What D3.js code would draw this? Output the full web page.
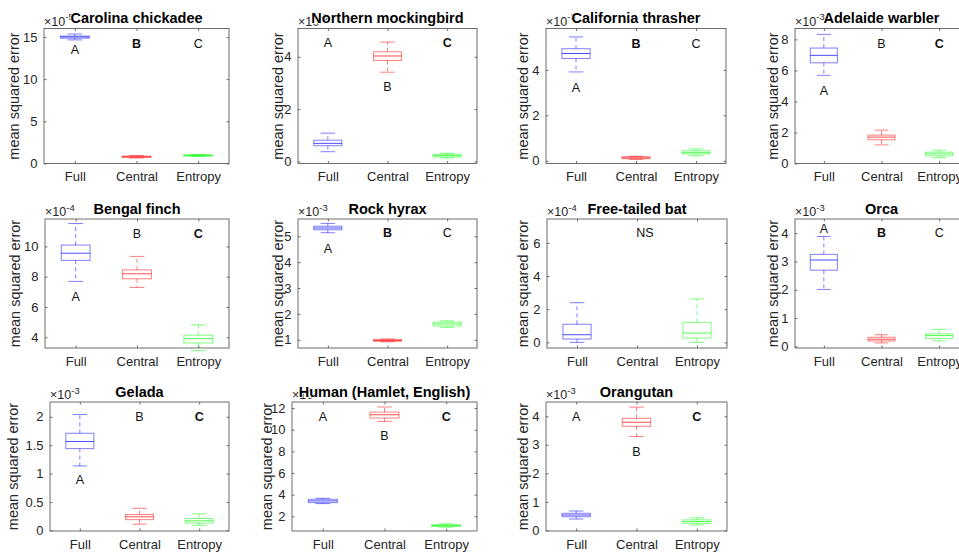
<!DOCTYPE html>
<html>
<head>
<meta charset="utf-8">
<script src="https://cdn.jsdelivr.net/npm/d3@7"></script>
<style>
  body { margin: 0; background: #fff; }
  svg { display: block; font-family: "Liberation Sans", Arial, Helvetica, sans-serif; }
</style>
</head>
<body>
<svg id="fig" width="959" height="554"></svg>
<script>
// ---- data -------------------------------------------------------------
const groups = ["Full", "Central", "Entropy"];
const groupColors = ["#0000ff", "#ff0000", "#00ff00"];

const titles = [
  "Carolina chickadee", "Northern mockingbird", "California thrasher", "Adelaide warbler",
  "Bengal finch", "Rock hyrax", "Free-tailed bat", "Orca",
  "Gelada", "Human (Hamlet, English)", "Orangutan"
];

// power-of-ten multiplier shown above each y axis
const exponents = [-5, -3, -3, -3, -4, -3, -4, -3, -3, -5, -3];

const yDomains = [
  [0, 16], [-0.08, 5.08], [-0.12, 5.82], [0, 8.7],
  [3.29, 11.81], [0.68, 5.67], [-0.34, 7.44], [-0.06, 4.5],
  [-0.01, 2.26], [0.64, 12.56], [-0.02, 4.5]
];

const yTicks = [
  [0, 5, 10, 15], [0, 2, 4], [0, 2, 4], [0, 2, 4, 6, 8],
  [4, 6, 8, 10], [1, 2, 3, 4, 5], [0, 2, 4, 6], [0, 1, 2, 3, 4],
  [0, 0.5, 1, 1.5, 2], [2, 4, 6, 8, 10, 12], [0, 1, 2, 3, 4]
];

// box statistics in axis units: [lower whisker, Q1, median, Q3, upper whisker]
const fullStats = [
  [14.65, 14.85, 15.0, 15.1, 15.35],
  [0.37, 0.60, 0.69, 0.81, 1.08],
  [3.91, 4.50, 4.72, 4.93, 5.45],
  [5.68, 6.49, 6.97, 7.44, 8.32],
  [7.69, 9.08, 9.55, 10.09, 11.51],
  [5.14, 5.25, 5.32, 5.39, 5.50],
  [0.0, 0.20, 0.46, 1.09, 2.39],
  [2.01, 2.69, 3.05, 3.25, 3.88],
  [1.135, 1.44, 1.565, 1.71, 2.04],
  [3.17, 3.26, 3.42, 3.57, 3.66],
  [0.40, 0.48, 0.54, 0.60, 0.68]
];
const centralStats = [
  [0.65, 0.72, 0.80, 0.88, 0.95],
  [3.41, 3.86, 4.03, 4.19, 4.56],
  [0.06, 0.09, 0.13, 0.18, 0.20],
  [1.20, 1.53, 1.70, 1.83, 2.15],
  [7.29, 7.86, 8.19, 8.45, 9.34],
  [0.92, 0.94, 0.97, 1.01, 1.03],
  null,
  [0.12, 0.19, 0.25, 0.32, 0.41],
  [0.11, 0.19, 0.24, 0.28, 0.39],
  [10.77, 11.08, 11.38, 11.63, 12.10],
  [3.29, 3.65, 3.79, 3.93, 4.32]
];
const entropyStats = [
  [0.82, 0.88, 0.96, 1.03, 1.08],
  [0.13, 0.17, 0.22, 0.27, 0.31],
  [0.22, 0.30, 0.37, 0.44, 0.52],
  [0.37, 0.49, 0.62, 0.73, 0.86],
  [3.11, 3.62, 3.91, 4.14, 4.82],
  [1.48, 1.53, 1.61, 1.68, 1.73],
  [0.0, 0.26, 0.56, 1.21, 2.62],
  [0.19, 0.28, 0.38, 0.44, 0.60],
  [0.09, 0.13, 0.17, 0.21, 0.29],
  [1.00, 1.05, 1.14, 1.23, 1.30],
  [0.19, 0.25, 0.31, 0.37, 0.44]
];

// significance letters per group, their heights (axis units) and weight
const letterText = [
  ["A", "B", "C"], ["A", "B", "C"], ["A", "B", "C"], ["A", "B", "C"],
  ["A", "B", "C"], ["A", "B", "C"], ["", "NS", ""], ["A", "B", "C"],
  ["A", "B", "C"], ["A", "B", "C"], ["A", "B", "C"]
];
const letterY = [
  [13.5, 14.2, 14.2], [4.51, 2.85, 4.51], [3.2, 5.15, 5.15], [4.67, 7.72, 7.72],
  [6.64, 10.82, 10.82], [4.51, 5.13, 5.13], [0, 6.6, 0], [4.15, 4.0, 4.0],
  [0.89, 2.0, 2.0], [11.17, 9.44, 11.17], [3.96, 2.75, 3.96]
];
const letterBold = [
  [0, 1, 0], [0, 0, 1], [0, 1, 0], [0, 0, 1],
  [0, 0, 1], [0, 1, 0], [0, 0, 0], [0, 1, 0],
  [0, 0, 1], [0, 0, 1], [0, 0, 1]
];

// ---- layout -----------------------------------------------------------
const R1 = [28.5, 163.5], R2 = [219, 348], R3 = [402, 531];
const frames = [
  [44, 229, R1], [298, 477, R1], [546, 726, R1], [795, 968, R1],
  [45, 229, R2], [298, 477, R2], [547, 727, R2], [795, 968, R2],
  [50, 229, R3], [292, 477, R3], [546, 727, R3]
];
const ylabelX = [14, 278, 523, 773, 15, 278, 523, 773, 13, 267, 523];

const axisColor = "#4a4a4a";
const textColor = "#262626";
const tickLen = 2.5;

const svg = d3.select("#fig");
const titleLayer = svg.append("g");

titles.forEach((title, i) => {
  const [x0, x1, [y0, y1]] = frames[i];
  const g = svg.append("g");

  const x = d3.scaleLinear().domain([0.5, 3.5]).range([x0, x1]);
  const y = d3.scaleLinear().domain(yDomains[i]).range([y1, y0]);

  // left axis: ticks point inward, labels outside
  const yAxis = d3.axisLeft(y).tickValues(yTicks[i]).tickSize(-tickLen).tickPadding(4 + tickLen)
    .tickFormat(d3.format("~g"));
  g.append("g").attr("transform", `translate(${x0},0)`).call(yAxis)
    .call(a => a.select(".domain").remove())
    .call(a => a.selectAll("line").attr("stroke", axisColor).attr("stroke-width", 0.8))
    .call(a => a.selectAll("text").attr("fill", textColor).attr("font-size", 13)
      .attr("font-family", null));

  // right-side tick marks
  g.append("g").attr("transform", `translate(${x1},0)`)
    .call(d3.axisRight(y).tickValues(yTicks[i]).tickSize(-tickLen).tickFormat(""))
    .call(a => a.select(".domain").remove())
    .call(a => a.selectAll("line").attr("stroke", axisColor).attr("stroke-width", 0.8));

  // bottom axis with group names
  const xAxis = d3.axisBottom(x).tickValues([1, 2, 3]).tickSize(-tickLen).tickPadding(6 + tickLen)
    .tickFormat(d => groups[d - 1]);
  g.append("g").attr("transform", `translate(0,${y1})`).call(xAxis)
    .call(a => a.select(".domain").remove())
    .call(a => a.selectAll("line").attr("stroke", axisColor).attr("stroke-width", 0.8))
    .call(a => a.selectAll("text").attr("fill", textColor).attr("font-size", 13)
      .attr("font-family", null));

  g.append("g").attr("transform", `translate(0,${y0})`)
    .call(d3.axisTop(x).tickValues([1, 2, 3]).tickSize(-tickLen).tickFormat(""))
    .call(a => a.select(".domain").remove())
    .call(a => a.selectAll("line").attr("stroke", axisColor).attr("stroke-width", 0.8));

  // axes box
  g.append("rect")
    .attr("x", x0).attr("y", y0).attr("width", x1 - x0).attr("height", y1 - y0)
    .attr("fill", "none").attr("stroke", axisColor).attr("stroke-width", 0.8);

  // y label
  g.append("text")
    .attr("transform", `translate(${ylabelX[i]},${(y0 + y1) / 2}) rotate(-90)`)
    .attr("text-anchor", "middle").attr("dominant-baseline", "central")
    .attr("font-size", 14.5).attr("fill", textColor)
    .text("mean squared error");

  // exponent multiplier
  const mult = g.append("text")
    .attr("x", x0).attr("y", y0 - 3)
    .attr("font-size", 12.5).attr("fill", textColor);
  mult.append("tspan").text("\u00d710");
  mult.append("tspan").attr("dy", -5.5).attr("font-size", 9.5).text(String(exponents[i]));

  // boxes
  const boxHalf = x(1.235) - x(1);
  const capHalf = x(1.12) - x(1);
  const stats = [fullStats[i], centralStats[i], entropyStats[i]];
  stats.forEach((s, k) => {
    if (!s) return;
    const [lo, q1, med, q3, hi] = s;
    const cx = x(k + 1);
    const col = groupColors[k];
    const bg = g.append("g").attr("stroke", col).attr("fill", "none").attr("stroke-width", 1);
    // whiskers
    bg.append("line").attr("x1", cx).attr("x2", cx).attr("y1", y(q3)).attr("y2", y(hi))
      .attr("stroke-dasharray", "4,3").attr("stroke-opacity", 0.5);
    bg.append("line").attr("x1", cx).attr("x2", cx).attr("y1", y(q1)).attr("y2", y(lo))
      .attr("stroke-dasharray", "4,3").attr("stroke-opacity", 0.5);
    // caps
    [lo, hi].forEach(v => {
      bg.append("line").attr("x1", cx - capHalf).attr("x2", cx + capHalf)
        .attr("y1", y(v)).attr("y2", y(v)).attr("stroke-opacity", 0.5);
    });
    // box
    bg.append("rect").attr("x", cx - boxHalf).attr("y", y(q3))
      .attr("width", 2 * boxHalf).attr("height", Math.max(0.5, y(q1) - y(q3)))
      .attr("stroke-opacity", 0.5);
    // median
    bg.append("line").attr("x1", cx - boxHalf).attr("x2", cx + boxHalf)
      .attr("y1", y(med)).attr("y2", y(med)).attr("stroke-opacity", 0.7);
  });

  // significance letters
  letterText[i].forEach((t, k) => {
    if (!t) return;
    g.append("text")
      .attr("x", x(k + 1) + (t === "NS" ? 8 : 0)).attr("y", y(letterY[i][k]))
      .attr("text-anchor", "middle").attr("dominant-baseline", "central")
      .attr("font-size", 12.5).attr("fill", "#111")
      .attr("font-weight", letterBold[i][k] ? "bold" : "normal")
      .text(t);
  });

  // panel title (drawn last, with a thin white halo over the multiplier)
  titleLayer.append("text")
    .attr("x", (x0 + x1) / 2).attr("y", y0 - 5.5)
    .attr("text-anchor", "middle")
    .attr("font-size", 14.5).attr("font-weight", "bold").attr("fill", "#000")
    .attr("stroke", "#fff").attr("stroke-width", 1.6).attr("paint-order", "stroke")
    .text(title);
});
titleLayer.raise();
</script>
</body>
</html>
